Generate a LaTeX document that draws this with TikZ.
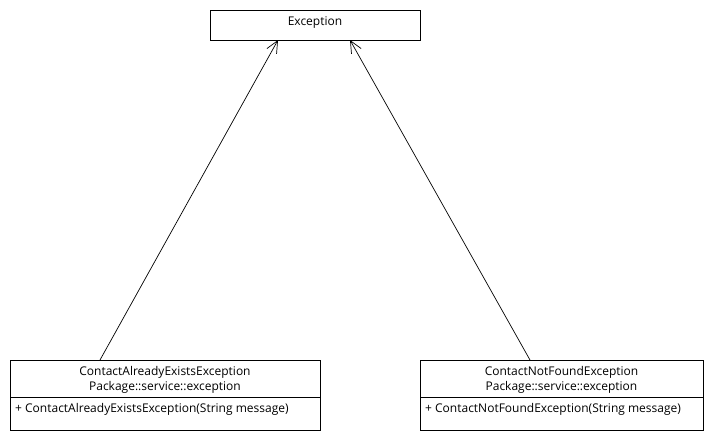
\documentclass[tikz,border=0pt]{standalone}
\usepackage{fontspec}
\setmainfont{Open Sans}
\usetikzlibrary{arrows.meta}
\begin{document}
\begin{tikzpicture}[x=1pt,y=-1pt,
  box/.style={draw,line width=0.8pt},
  txt/.style={font=\fontsize{12}{15}\selectfont,inner sep=0pt},
  gen/.style={draw,line width=0.7pt,-{Straight Barb[length=12pt,width=11pt,line width=0.7pt]}}]
\useasboundingbox (0,0) rectangle (710,440);
% Exception
\draw[box] (210,10) rectangle (420,40);
\node[txt] (exc) at (315,23) {Exception};
\coordinate (excL) at (278,40);
\coordinate (excR) at (350,40);
% Left class
\draw[box] (10,360) rectangle (320,430);
\draw[box] (10,397) -- (320,397);
\node[txt,align=center] (left) at (165,380) {ContactAlreadyExistsException\\Package::service::exception};
\node[txt,anchor=west] (leftm) at (15,409) {+ ContactAlreadyExistsException(String message)};
\coordinate (leftT) at (100,360);
% Right class
\draw[box] (420,360) rectangle (703,430);
\draw[box] (420,397) -- (703,397);
\node[txt,align=center] (right) at (561.5,380) {ContactNotFoundException\\Package::service::exception};
\node[txt,anchor=west] (rightm) at (425,409) {+ ContactNotFoundException(String message)};
\coordinate (rightT) at (530,360);
% generalizations
\draw[gen] (leftT) -- (excL);
\draw[gen] (rightT) -- (excR);
\end{tikzpicture}
\end{document}
